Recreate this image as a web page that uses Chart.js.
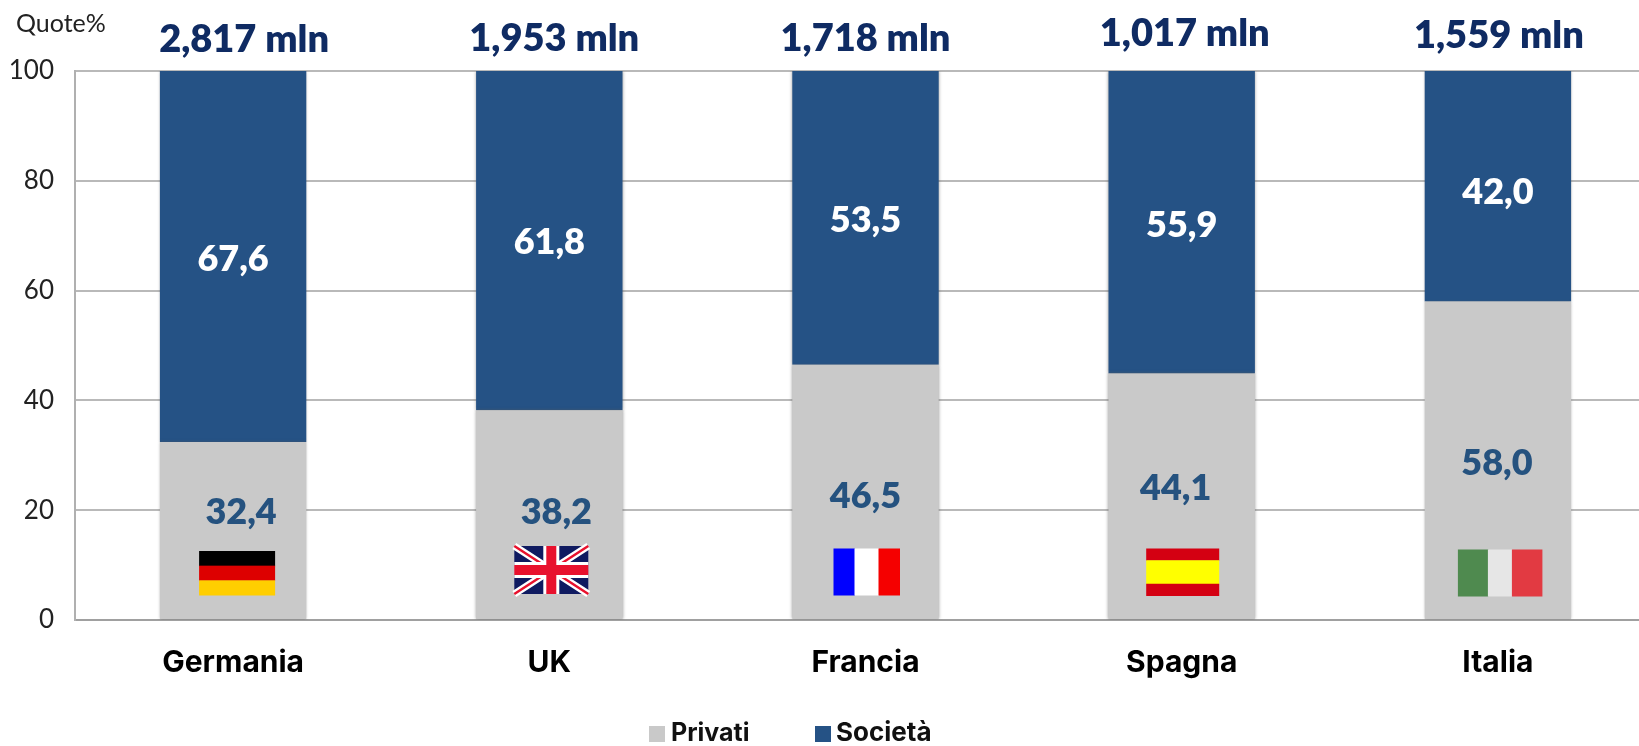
<!DOCTYPE html>
<html><head><meta charset="utf-8">
<style>html,body{margin:0;padding:0;background:#fff;overflow:hidden;width:1639px;height:746px}
#w{position:absolute;left:0;top:0;width:1656px;height:746px}</style>
<script src="https://cdn.jsdelivr.net/npm/chart.js@4"></script>
</head><body><div id="w"><canvas id="c" width="1656" height="746"></canvas></div>
<script>
const categories = ['Germania','UK','Francia','Spagna','Italia'];
// bar heights as drawn in the picture
const privati = [32.4,38.2,46.5,44.9,58.0];
const societa = [67.6,61.8,53.5,55.1,42.0];
// value labels as printed in the picture
const privatiLabels = ['32,4','38,2','46,5','44,1','58,0'];
const societaLabels = ['67,6','61,8','53,5','55,9','42,0'];
const totals = ['2,817 mln','1,953 mln','1,718 mln','1,017 mln','1,559 mln'];
const yTicks = [0,20,40,60,80,100];

const FONT = 'Lato, "Open Sans", sans-serif';
const FONT2 = 'Inter, Lato, sans-serif';
const totalOffset = [[11,-31],[5,-32],[0,-32],[3,-37],[1,-35]];
const privOffset = [[8,-19],[7,-3],[0,4],[-6,-8],[-1,3]];
const socOffset = [[0,3],[0,2],[0,3],[0,3],[0,6]];
const flagCenter = [4,2,1,1,2];
const flagLift = [47,50,48,48,47];
const legendSpots = [[649,671],[815,836]];

const drawFlag = {
 0(c,x,y){h(c,x,y,76,44,['#000','#dd0000','#ffce00'],[1,1,1]);},
 1(c,x,y){const W=74,H=48,l=x-W/2,t=y-H/2;c.fillStyle='#0f1a60';c.fillRect(l,t,W,H);
   c.strokeStyle='#fff';c.lineWidth=7;c.beginPath();c.moveTo(l,t);c.lineTo(l+W,t+H);c.moveTo(l+W,t);c.lineTo(l,t+H);c.stroke();
   c.strokeStyle='#e8112d';c.lineWidth=2.5;c.stroke();
   c.fillStyle='#fff';c.fillRect(x-8,t,16,H);c.fillRect(l,y-8,W,16);
   c.fillStyle='#e8112d';c.fillRect(x-5,t,10,H);c.fillRect(l,y-5,W,10);},
 2(c,x,y){v(c,x,y,66,47,['#0000ff','#ffffff','#f50000'],[21,24,21]);},
 3(c,x,y){h(c,x,y,73,47,['#d40012','#ffff00','#d40012'],[1,2,1]);},
 4(c,x,y){v(c,x,y,84,47,['#4f8a4f','#e6e6e6','#e23a42'],[30,24,30]);}
};
function h(c,x,y,W,H,cols,parts){const s=parts.reduce((a,b)=>a+b);let t=y-H/2;cols.forEach((k,i)=>{const d=H*parts[i]/s;c.fillStyle=k;c.fillRect(x-W/2,t,W,d+.5);t+=d;});}
function v(c,x,y,W,H,cols,parts){const s=parts.reduce((a,b)=>a+b);let l=x-W/2;cols.forEach((k,i)=>{const d=W*parts[i]/s;c.fillStyle=k;c.fillRect(l,y-H/2,d+.5,H);l+=d;});}

const overlay = {
 id:'overlay',
 beforeDatasetsDraw(ch){const c=ch.ctx;c.save();c.shadowColor='rgba(90,90,90,.55)';c.shadowBlur=3;},
 afterDatasetsDraw(ch){const c=ch.ctx;c.restore();c.save();
   const xs=ch.scales.x,ys=ch.scales.y;
   c.textAlign='center';c.textBaseline='middle';
   categories.forEach((n,i)=>{
     const x=xs.getPixelForValue(i);
     c.font='800 38px '+FONT;c.fillStyle='#0f2b63';
     c.fillText(totals[i],x+totalOffset[i][0],ys.getPixelForValue(100)+totalOffset[i][1]);
     c.font='800 36px '+FONT;c.fillStyle='#25527f';
     c.fillText(privatiLabels[i],x+privOffset[i][0],ys.getPixelForValue(privati[i]/2)+privOffset[i][1]);
     c.fillStyle='#ffffff';
     c.fillText(societaLabels[i],x+socOffset[i][0],ys.getPixelForValue(privati[i]+societa[i]/2)+socOffset[i][1]);
     drawFlag[i](c,x+flagCenter[i],ys.getPixelForValue(0)-flagLift[i]);
   });
   c.font='400 25px '+FONT;c.fillStyle='#222';c.textAlign='left';
   c.fillText('Quote%',16,24);
   ch.data.datasets.forEach((d,i)=>{
     c.fillStyle=d.backgroundColor;c.fillRect(legendSpots[i][0],726,16,16);
     c.fillStyle='#111';c.font='700 '+(i?26:25)+'px '+FONT2;
     c.fillText(d.label,legendSpots[i][1],733);
   });
   c.restore();}
};

new Chart(document.getElementById('c'),{
 type:'bar',
 data:{labels:categories,datasets:[
  {label:'Privati',data:privati,backgroundColor:'#c9c9c9',stack:'s'},
  {label:'Società',data:societa,backgroundColor:'#255285',stack:'s'}]},
 plugins:[overlay],
 options:{responsive:false,animation:false,
  layout:{padding:{top:71,left:0,right:0,bottom:0}},
  datasets:{bar:{categoryPercentage:1,barPercentage:0.463}},
  plugins:{tooltip:{enabled:false},legend:{display:false}},
  scales:{
   x:{stacked:true,grid:{display:false},border:{color:'#a0a0a0',width:2},
      afterFit(a){a.height=126;},
      ticks:{color:'#000',font:{family:FONT2,size:30,weight:'700'},padding:17,maxRotation:0}},
   y:{stacked:true,min:0,max:100,afterBuildTicks(a){a.ticks=yTicks.map(v=>({value:v}));},
      afterFit(a){a.width=75;},
      grid:{color:'#b9b9b9',lineWidth:2,drawTicks:false},border:{color:'#b0b0b0',width:2},
      ticks:{color:'#222',font:{family:FONT,size:26,weight:'400'},padding:21}}
  }}
});
</script></body></html>
